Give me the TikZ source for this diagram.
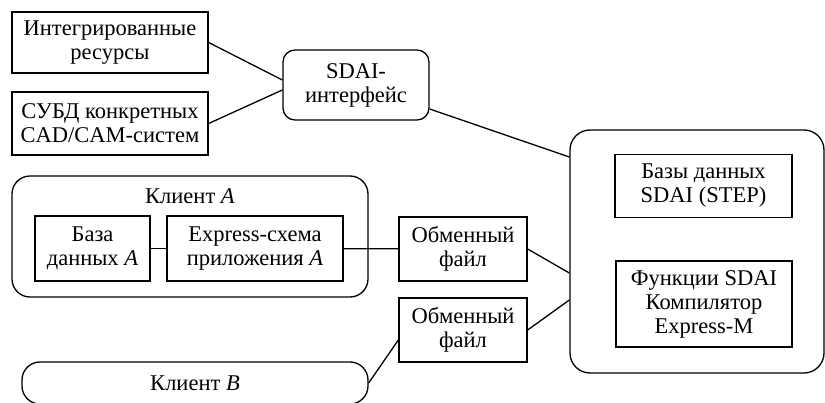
\documentclass[tikz,border=0pt]{standalone}
\usepackage{fontspec}
\setmainfont{Liberation Serif}
\usepackage{tikz}
\usetikzlibrary{calc,positioning}
\tikzset{
  blk/.style={draw,line width=1.3pt,align=center,inner sep=0pt},
  rblk/.style={blk,rounded corners=#1},
  rblk/.default=14pt
}

\begin{document}
\begin{tikzpicture}[x=1pt,y=-1pt,font=\fontsize{22.5}{24}\selectfont]
\useasboundingbox (0,0) rectangle (825,403);
\node[blk,minimum width=196,minimum height=61] (res) at (110,42.5) {Интегрированные\\ресурсы};
\node[blk,minimum width=196,minimum height=63] (dbms) at (110,123.5) {СУБД конкретных\\CAD/CAM-систем};
\node[rblk=12pt,minimum width=146,minimum height=70] (sdai) at (356,85) {SDAI-\\интерфейс};
\node[rblk=18pt,minimum width=356,minimum height=121] (clA) at (190,236.5) {};
\node (clAlbl) at (190,196) {Клиент \textit{A}};
\node[blk,minimum width=115,minimum height=65] (dbA) at (92.5,248.5) {База\\данных \textit{A}};
\node[blk,minimum width=176,minimum height=65] (expA) at (255,248.5) {Express-схема\\приложения \textit{A}};
\node[blk,minimum width=128,minimum height=64] (ex1) at (463,249) {Обменный\\файл};
\node[blk,minimum width=128,minimum height=64] (ex2) at (463,330) {Обменный\\файл};
\node[rblk=18pt,minimum width=346,minimum height=42] (clB) at (195,383) {Клиент \textit{B}};
\node[rblk=20pt,minimum width=254,minimum height=243] (srv) at (697,251.5) {};
\node[blk,minimum width=177,minimum height=63] (sdb) at (703.5,186) {Базы данных\\SDAI (STEP)};
\node[blk,minimum width=176,minimum height=86] (sfn) at (704,304) {Функции SDAI\\Компилятор\\Express-M};
%\node (E) at (697,120) {};
\path[line width=1.3pt]
(res.east) edge ([yshift=5pt]sdai.west)
(dbms.east) edge ([yshift=-5pt]sdai.west)
([yshift=-24pt]sdai.east) edge ([yshift=94.5pt]srv.west)
(dbA) edge (expA)
(expA) edge (ex1)
(ex1.east) edge ([yshift=-21.5pt]srv.west)
(ex2.east) edge ([yshift=-48.5pt]srv.west)
(clB.east) edge ([yshift=-10pt]ex2.west);
\end{tikzpicture}
\end{document}
